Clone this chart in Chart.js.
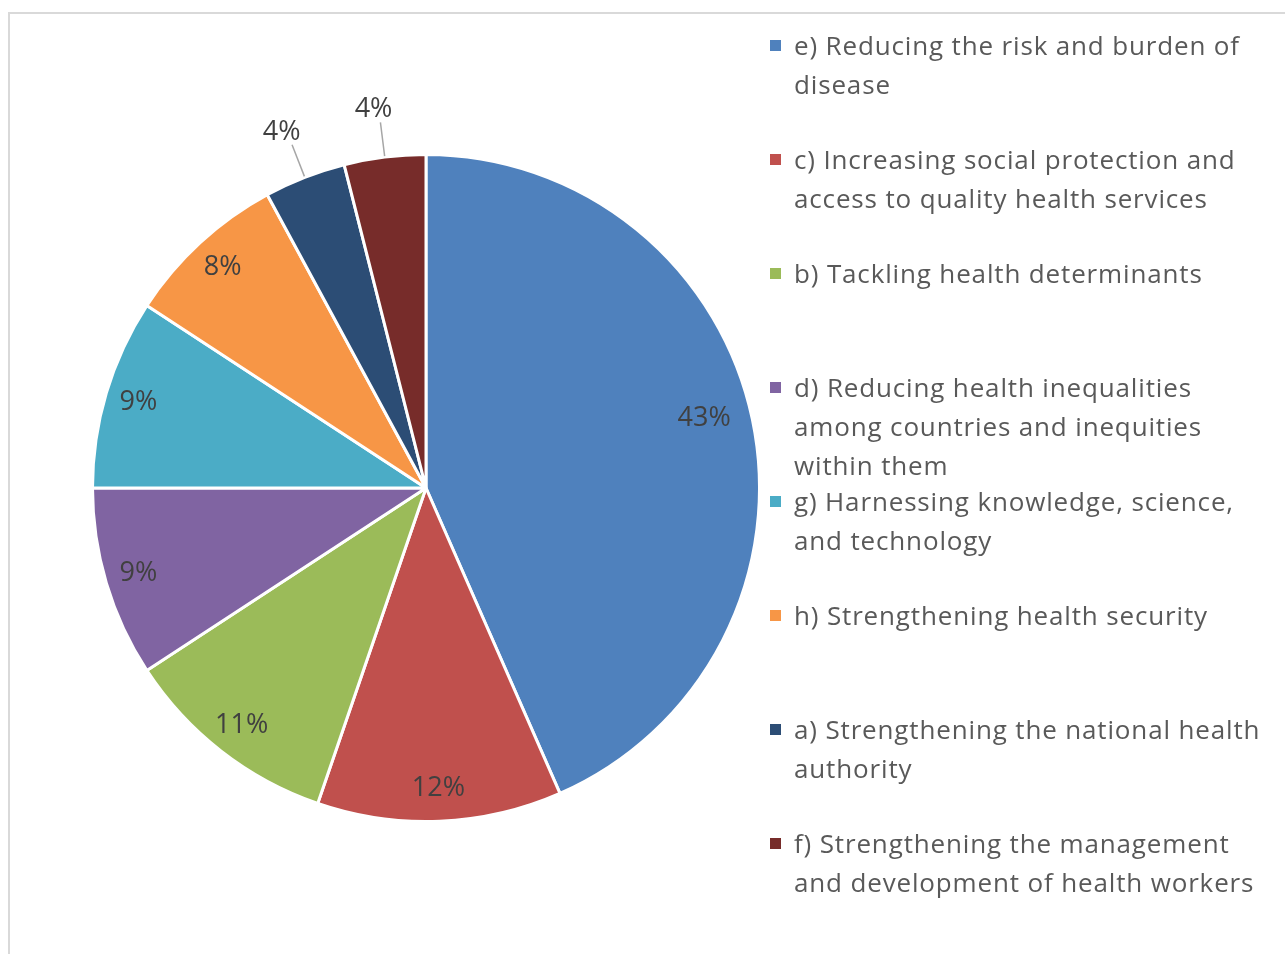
<!DOCTYPE html>
<html>
<head>
<meta charset="utf-8">
<script src="https://cdn.jsdelivr.net/npm/chart.js@4/dist/chart.umd.min.js"></script>
<style>
    html, body { margin: 0; padding: 0; background: #fff; overflow: hidden; }
    body { width: 1285px; height: 954px; position: relative; }
    #frame { position: absolute; left: 8px; top: 12px; width: 2000px; height: 2000px; border: 2px solid #d9d9d9; }
    #chart-box { position: absolute; left: 26px; top: 88px; width: 800px; height: 800px; }
    #legend { position: absolute; left: 770px; top: 0; font-family: "Open Sans", sans-serif; font-size: 26px; letter-spacing: 0.85px; color: #595959; }
    .item { position: absolute; left: 0; white-space: nowrap; line-height: 39px; }
    .item .sw { position: absolute; left: 0; top: 14px; width: 11px; height: 11px; }
    .item .txt { position: absolute; left: 24px; top: 0; }
</style>
</head>
<body>
<div id="frame"></div>
<div id="chart-box"><canvas id="pie"></canvas></div>
<div id="legend"></div>
<script>
// categories in drawing order (clockwise from 12 o'clock)
const categories = [
    ['e) Reducing the risk and burden of', 'disease'],
    ['c) Increasing social protection and', 'access to quality health services'],
    ['b) Tackling health determinants'],
    ['d) Reducing health inequalities', 'among countries and inequities', 'within them'],
    ['g) Harnessing knowledge, science,', 'and technology'],
    ['h) Strengthening health security'],
    ['a) Strengthening the national health', 'authority'],
    ['f) Strengthening the management', 'and development of health workers'],
];
const counts = [33, 9, 8, 7, 7, 6, 3, 3];
const colors = ['#4F81BD', '#C0504D', '#9BBB59', '#8064A2', '#4BACC6', '#F79646', '#2C4D75', '#772C2A'];
const outsideLabels = [false, false, false, false, false, false, true, true];

// legend on the right
const legend = document.getElementById('legend');
categories.forEach((lines, i) => {
    const item = document.createElement('div');
    item.className = 'item';
    item.style.top = (26 + i * 114) + 'px';
    item.innerHTML = '<span class="sw" style="background:' + colors[i] + '"></span>' +
        '<span class="txt">' + lines.join('<br>') + '</span>';
    legend.appendChild(item);
});

const pctLabels = {
    id: 'pctLabels',
    afterDatasetsDraw(chart) {
        const ctx = chart.ctx;
        const meta = chart.getDatasetMeta(0);
        const total = counts.reduce((a, b) => a + b, 0);
        ctx.save();
        ctx.font = '27px "Open Sans", sans-serif';
        ctx.fillStyle = '#404040';
        ctx.textAlign = 'center';
        ctx.textBaseline = 'middle';
        meta.data.forEach((arc, i) => {
            const p = arc.getProps(['x', 'y', 'startAngle', 'endAngle', 'outerRadius'], true);
            let mid = (p.startAngle + p.endAngle) / 2;
            if (i === 0) mid -= 0.04; // excel nudges the big label up a bit
            const cos = Math.cos(mid), sin = Math.sin(mid);
            const text = Math.round(counts[i] / total * 100) + '%';
            if (outsideLabels[i]) {
                ctx.strokeStyle = '#a6a6a6';
                ctx.lineWidth = 1.5;
                ctx.beginPath();
                ctx.moveTo(p.x + cos * (p.outerRadius + 1), p.y + sin * (p.outerRadius + 1));
                ctx.lineTo(p.x + cos * (p.outerRadius + 35), p.y + sin * (p.outerRadius + 35));
                ctx.stroke();
                ctx.fillText(text, p.x + cos * (p.outerRadius + 50) - 5, p.y + sin * (p.outerRadius + 50) + 2);
            } else {
                const r = p.outerRadius * (i === 0 ? 0.86 : 0.9);
                ctx.fillText(text, p.x + cos * r, p.y + sin * r);
            }
        });
        ctx.restore();
    }
};

new Chart(document.getElementById('pie'), {
    type: 'pie',
    data: {
        labels: categories,
        datasets: [{
            data: counts,
            backgroundColor: colors,
            borderColor: '#ffffff',
            borderWidth: 3,
        }]
    },
    options: {
        responsive: true,
        maintainAspectRatio: false,
        animation: false,
        layout: { padding: 65 },
        plugins: { legend: { display: false }, tooltip: { enabled: false } },
    },
    plugins: [pctLabels]
});
</script>
</body>
</html>
